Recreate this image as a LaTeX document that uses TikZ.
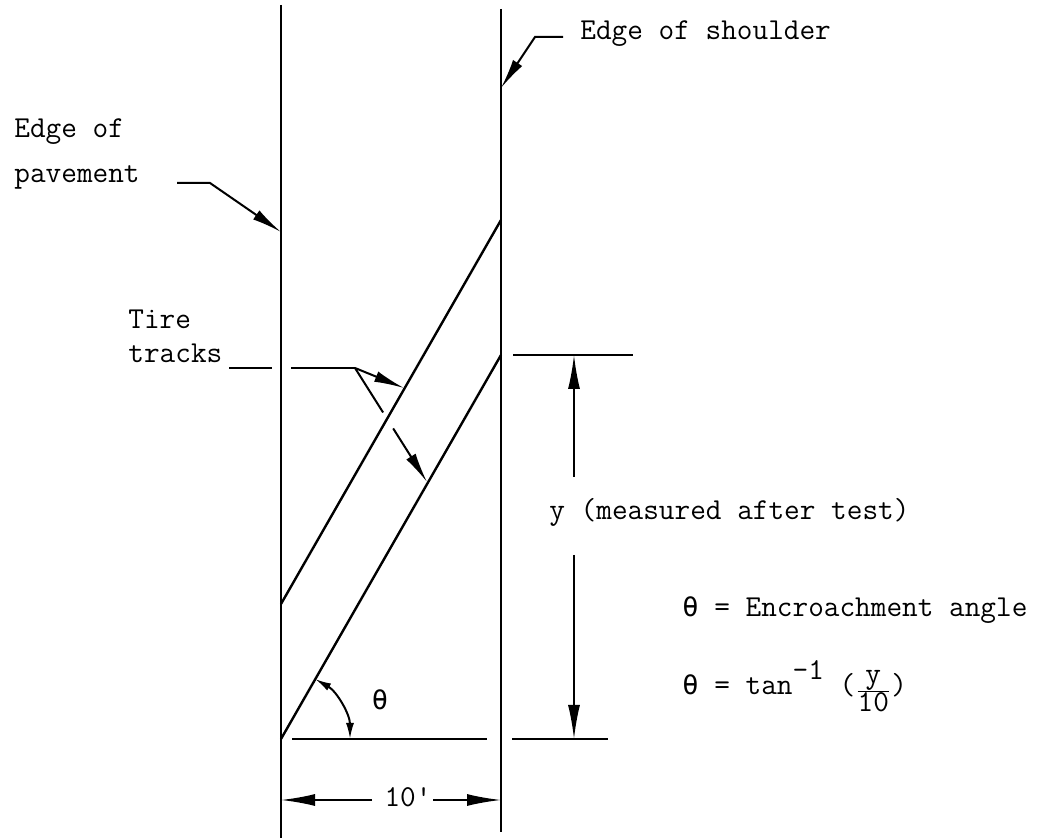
\documentclass[tikz,border=0pt]{standalone}
\usepackage{fontspec}
\newfontfamily\thetafont{DejaVu Sans Mono}
\usetikzlibrary{arrows.meta,positioning,calc}
\newcommand{\thetachar}{{\thetafont\fontsize{13.5}{16}\selectfont θ}}

\begin{document}
\begin{tikzpicture}[
    x=0.5pt, y=-0.5pt,
    >=Latex,
    every node/.style={font=\ttfamily\fontsize{15.2}{18}\selectfont, inner sep=1pt},
    txt/.style={anchor=base west},
    roadedge/.style={line width=1pt},
    track/.style={line width=1.2pt},
    leadline/.style={line width=1pt, -{Latex[length=15pt,width=5.5pt]}},
    dimline/.style={line width=0.9pt, -{Latex[length=17pt,width=6pt]}},
    arcline/.style={line width=1pt, {Latex[length=8pt,width=4pt]}-{Latex[length=8pt,width=4pt]}},
  ]
  \useasboundingbox (0,0) rectangle (1046,838);

  % pavement and shoulder edges
  \coordinate (pav_top) at (281,5);
  \coordinate (pav_bot) at (281,838);
  \coordinate (sho_top) at (501,9);
  \coordinate (sho_bot) at (501,832);
  \draw[roadedge] (pav_top) -- (pav_bot);
  \draw[roadedge] (sho_top) -- (sho_bot);

  % tire tracks
  \coordinate (upper_a) at (281,604);
  \coordinate (upper_b) at (501,220);
  \coordinate (lower_a) at (281,739);
  \coordinate (lower_b) at (501,355);
  \draw[track] (upper_a) -- (upper_b);
  \draw[track] (lower_a) -- (lower_b);

  % reference lines
  \coordinate (base_l1) at (292,739);
  \coordinate (base_r1) at (487,739);
  \coordinate (base_l2) at (512,739);
  \coordinate (base_r2) at (608,739);
  \coordinate (top_l) at (513,355);
  \coordinate (top_r) at (633,355);
  \draw[roadedge] (base_l1) -- (base_r1);
  \draw[roadedge] (base_l2) -- (base_r2);
  \draw[roadedge] (top_l) -- (top_r);

  % labels
  \node[txt] (shoulder) at (578,40) {Edge of shoulder};
  \node[txt] (edgeof) at (12,138) {Edge of};
  \node[txt] (pavement) at (12,183) {pavement};
  \node[txt] (tire) at (126,329) {Tire};
  \node[txt] (tracks) at (126,363) {tracks};
  \node[txt] (ymeas) at (547,520) {y (measured after test)};
  \node[txt] (encr) at (680,617) {\thetachar{} = Encroachment angle};
  \node[txt] (tanf) at (680,695)
    {\thetachar{} = tan\raisebox{0.5em}{-1} (\raisebox{-2pt}{$\frac{\mbox{y}}{\mbox{10}}$})};
  \node (theta) at (380,700) {\thetachar};
  \node (ten) at (408,797) {10\textquotesingle};

  % leaders
  \coordinate (s_1) at (563,37);
  \coordinate (s_2) at (535,37);
  \coordinate (s_tip) at (501,88);
  \draw[leadline] (s_1) -- (s_2) -- (s_tip);
  \coordinate (p_1) at (177,183);
  \coordinate (p_2) at (210,183);
  \coordinate (p_tip) at (281,232);
  \draw[leadline] (p_1) -- (p_2) -- (p_tip);
  \coordinate (t_1) at (229,368);
  \coordinate (t_2) at (272,368);
  \coordinate (t_3) at (291,368);
  \coordinate (t_knee) at (355,368);
  \coordinate (t_tip1) at (404,388);
  \coordinate (t_tip2) at (427,482);
  \draw[roadedge] (t_1) -- (t_2);
  \draw[roadedge] (t_3) -- (t_knee);
  \draw[leadline] (t_knee) -- (t_tip1);
  \draw[roadedge] (t_knee) -- ($(t_knee)!0.39!(t_tip2)$);
  \draw[leadline] ($(t_knee)!0.53!(t_tip2)$) -- (t_tip2);

  % dimensions
  \coordinate (y_top) at (574,355);
  \coordinate (y_bot) at (574,739);
  \coordinate (y_m1) at (574,477);
  \coordinate (y_m2) at (574,555);
  \draw[dimline] (y_m1) -- (y_top);
  \draw[dimline] (y_m2) -- (y_bot);
  \coordinate (w_l) at (281,800);
  \coordinate (w_r) at (501,800);
  \coordinate (w_m1) at (372,800);
  \coordinate (w_m2) at (433,800);
  \draw[dimline] (w_m1) -- (w_l);
  \draw[dimline] (w_m2) -- (w_r);
  \draw[arcline] (lower_a) ++(69,0) arc[start angle=0, end angle=-60.3, radius=69];
\end{tikzpicture}
\end{document}
